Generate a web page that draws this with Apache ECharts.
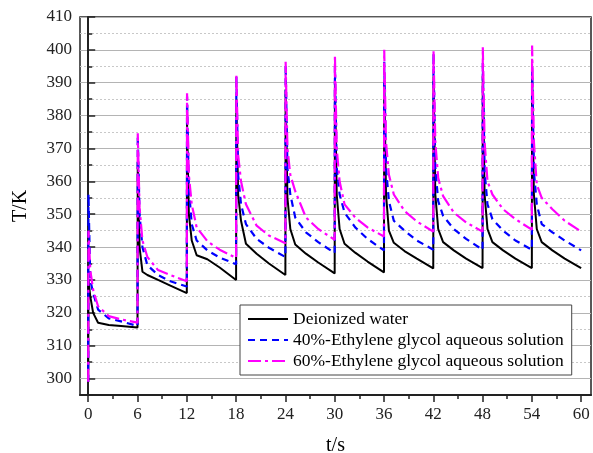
<!DOCTYPE html>
<html>
<head>
<meta charset="utf-8">
<script src="https://cdn.jsdelivr.net/npm/echarts@6/dist/echarts.min.js"></script>
<style>
html, body { margin: 0; padding: 0; background: #fff; }
#chart { width: 593px; height: 453px; }
</style>
</head>
<body>
<div id="chart"></div>
<script>
// pulse heating: a spike every 6 s, then decay
var cycleStart = [0, 6, 12, 18, 24, 30, 36, 42, 48, 54];
var offsets = [0.03, 0.25, 0.6, 1.2, 2.5, 4, 6];
var startT = 299;

var water = [
    [330, 325, 320, 317, 316.3, 316, 315.5],
    [366, 340, 332.5, 331.5, 330, 328.3, 326],
    [378, 350, 342, 337.5, 336.3, 333.8, 330],
    [385, 356, 348, 341, 338, 335, 331.5],
    [388, 355, 345.5, 340.8, 338, 335.3, 332],
    [390, 356, 345.5, 341, 338.3, 335.6, 332.3],
    [391, 356, 345, 341.3, 338.8, 336.5, 333.5],
    [392, 356, 345.5, 341.5, 339, 336.5, 333.6],
    [392, 356, 345.5, 341.5, 339, 336.5, 333.6],
    [392, 356, 345.5, 341.5, 339, 336.5, 333.6]
];
var eg40 = [
    [356, 330, 326, 321, 318.3, 317.4, 316],
    [374, 350, 340, 334.5, 331.5, 329.6, 328],
    [385.8, 358, 347, 342, 339, 336.8, 334.8],
    [392, 362, 353, 347, 342.5, 339.8, 337],
    [395.5, 364, 356, 349, 344.5, 341.5, 338.2],
    [395, 364, 356, 350.5, 346, 342.5, 339],
    [396.4, 364, 354, 348, 345, 342, 339.2],
    [399, 364, 354, 349.5, 345.5, 342.5, 339.2],
    [396, 363, 353, 348.5, 345, 342, 339.2],
    [395, 363, 353, 347, 344.5, 342, 339]
];
var eg60 = [
    [345, 333, 327, 322, 319, 318, 317],
    [374.6, 352, 342, 337, 333, 331.5, 329.6],
    [386.8, 362, 353, 346, 341.8, 339.2, 336.7],
    [392.7, 368, 360, 353, 346.5, 343.5, 341.2],
    [396.4, 370, 362, 357, 349, 345.5, 342.2],
    [398.4, 370, 360, 353, 349, 346, 343.2],
    [400, 372, 362, 356, 351, 347.8, 344.7],
    [399.8, 372, 361, 355.5, 350.5, 347.5, 344.7],
    [400.8, 372, 360, 356, 351.5, 348.5, 345.3],
    [401.3, 372, 359, 355, 351.5, 348, 344.7]
];

var xLabels = [0, 6, 12, 18, 24, 30, 36, 42, 48, 54, 60];
var xMinor = [3, 9, 15, 21, 27, 33, 39, 45, 51, 57];
var yMajor = [300, 310, 320, 330, 340, 350, 360, 370, 380, 390, 400, 410];

function build(cycles) {
    var pts = [[0, startT]];
    for (var i = 0; i < cycles.length; i++) {
        for (var j = 0; j < offsets.length; j++) {
            pts.push([cycleStart[i] + offsets[j], cycles[i][j]]);
        }
    }
    return pts;
}

var font = 'Liberation Serif';
var chart = echarts.init(document.getElementById('chart'));

var option = {
    animation: false,
    grid: {
        left: 80, right: 2, top: 17, bottom: 58,
        outerBoundsMode: 'none',
        show: true, borderColor: '#222', borderWidth: 1.5
    },
    legend: {
        orient: 'vertical',
        left: 240, top: 305,
        padding: [5, 8, 5, 7],
        itemGap: 3,
        itemWidth: 40,
        itemHeight: 18,
        borderColor: '#444',
        borderWidth: 1,
        backgroundColor: '#fff',
        itemStyle: { opacity: 0 },
        textStyle: { fontFamily: font, fontSize: 17.5, lineHeight: 18, color: '#000' },
        data: ['Deionized water', '40%-Ethylene glycol aqueous solution', '60%-Ethylene glycol aqueous solution']
    },
    xAxis: [{
        type: 'value', min: -1, max: 61.2,
        name: 't/s', nameLocation: 'middle', nameGap: 41,
        nameTextStyle: { fontFamily: font, fontSize: 20, color: '#000' },
        axisLine: { lineStyle: { color: '#222', width: 2 } },
        axisTick: { customValues: xLabels, length: 7, lineStyle: { color: '#222', width: 1.5 } },
        axisLabel: { customValues: xLabels, margin: 11, fontFamily: font, fontSize: 17, color: '#222' },
        splitLine: { show: false }
    }, {
        type: 'value', min: -1, max: 61.2, position: 'bottom',
        axisLine: { show: false },
        axisTick: { customValues: xMinor, length: 4, lineStyle: { color: '#222', width: 1.5 } },
        axisLabel: { show: false },
        splitLine: { show: false }
    }],
    yAxis: [{
        type: 'value', min: 295, max: 410, interval: 5,
        name: 'T/K', nameLocation: 'middle', nameGap: 49,
        nameTextStyle: { fontFamily: font, fontSize: 20, color: '#000' },
        axisLine: { show: true, lineStyle: { color: '#222', width: 2 } },
        axisTick: { inside: true, length: 4, lineStyle: { color: '#222', width: 1.5 } },
        axisLabel: {
            margin: 8, fontFamily: font, fontSize: 17, color: '#222',
            formatter: function (v) { return v % 10 === 0 ? String(v) : ''; }
        },
        splitLine: { show: true, lineStyle: { color: '#c8c8c8', type: [2, 2], width: 1 } }
    }, {
        type: 'value', min: 295, max: 410, interval: 5, position: 'left',
        axisLine: { show: false },
        axisTick: { show: true, inside: true, customValues: yMajor, length: 7, lineStyle: { color: '#222', width: 1.5 } },
        axisLabel: { show: false },
        splitLine: { show: true, lineStyle: { color: '#b4b4b4', width: 1 } }
    }],
    series: [{
        name: 'Deionized water', type: 'line', showSymbol: false, symbol: 'none',
        data: build(water),
        lineStyle: { color: '#000', width: 2 },
        itemStyle: { color: '#000' }
    }, {
        name: '40%-Ethylene glycol aqueous solution', type: 'line', showSymbol: false, symbol: 'none',
        data: build(eg40),
        lineStyle: { color: '#0000ff', width: 2.2, type: [7, 5] },
        itemStyle: { color: '#0000ff' }
    }, {
        name: '60%-Ethylene glycol aqueous solution', type: 'line', showSymbol: false, symbol: 'none',
        data: build(eg60),
        lineStyle: { color: '#ff00ff', width: 2.2, type: [13, 4, 3, 4] },
        itemStyle: { color: '#ff00ff' }
    }]
};
chart.setOption(option);
</script>
</body>
</html>
